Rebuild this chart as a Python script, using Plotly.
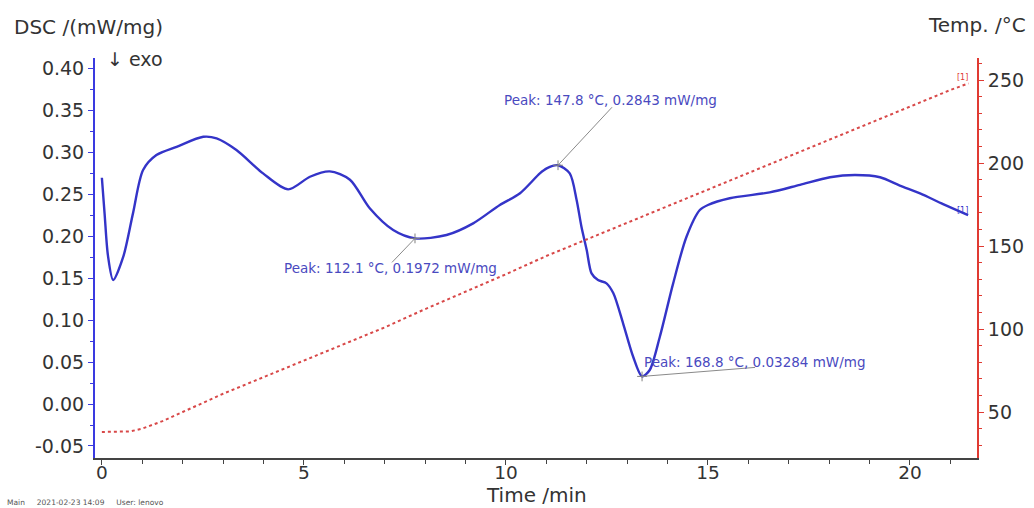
import plotly.graph_objects as go

# ---- data ----
dsc_time = [0.0, 0.07, 0.15, 0.28, 0.53, 0.77, 1.02, 1.35, 1.85, 2.51, 2.84, 3.33, 3.99, 4.61,
            5.15, 5.64, 6.14, 6.63, 7.21, 7.75, 8.53, 9.19, 9.85, 10.35, 10.84, 11.01, 11.29,
            11.58, 11.75, 11.87, 12.0, 12.12, 12.28, 12.49, 12.66, 12.90, 13.15, 13.37, 13.56,
            13.81, 14.14, 14.47, 14.80, 15.0, 15.54, 16.53, 17.28, 18.02, 18.64, 19.26, 19.75,
            20.25, 20.82, 21.44]
dsc_value = [0.2694, 0.225, 0.177, 0.1476, 0.1754, 0.2270, 0.2786, 0.2964, 0.3063, 0.3182,
             0.3163, 0.3024, 0.2746, 0.2556, 0.2706, 0.2770, 0.2670, 0.2330, 0.2071, 0.1972,
             0.2012, 0.2151, 0.2370, 0.2510, 0.2746, 0.2806, 0.2843, 0.2746, 0.2429, 0.2111,
             0.1833, 0.1556, 0.1476, 0.1437, 0.1318, 0.0961, 0.0563, 0.03284, 0.0405, 0.0801,
             0.1437, 0.1992, 0.2310, 0.2370, 0.2450, 0.2520, 0.2610, 0.2700, 0.2726, 0.2700,
             0.2600, 0.2508, 0.2381, 0.2250]

temp_time = [0.0, 0.3, 0.7, 1.0, 1.5, 2.0, 3.0, 4.0, 5.0, 6.0, 7.0, 8.0, 9.0, 10.0, 11.0, 12.0,
             13.0, 14.0, 15.0, 16.0, 17.0, 18.0, 19.0, 20.0, 21.0, 21.45]
temp_value = [38.0, 38.0, 38.3, 40.0, 44.5, 50.0, 61.0, 71.0, 81.0, 91.0, 101.0, 112.0, 122.5,
              133.0, 144.0, 154.0, 164.0, 174.0, 184.0, 194.0, 204.0, 214.0, 224.0, 234.0,
              244.0, 248.0]

peak_time = [7.75, 11.29, 13.37]
peak_dsc = [0.1972, 0.2843, 0.03284]
peak_labels = ["Peak: 112.1 °C, 0.1972 mW/mg",
               "Peak: 147.8 °C, 0.2843 mW/mg",
               "Peak: 168.8 °C, 0.03284 mW/mg"]

x_ticks = [0, 5, 10, 15, 20]
y_ticks = [-0.05, 0.0, 0.05, 0.10, 0.15, 0.20, 0.25, 0.30, 0.35, 0.40]
y_ticktext = ["-0.05", "0.00", "0.05", "0.10", "0.15", "0.20", "0.25", "0.30", "0.35", "0.40"]
y2_ticks = [50, 100, 150, 200, 250]

# ---- styles ----
FONT = "DejaVu Sans"
BLUE = "#3434c8"
BLUE_AX = "#3a3ae0"
RED = "#e03a32"
RED_LINE = "#d84848"
TXT = "#333333"
ANN = "#4a4ac0"

fig = go.Figure()
fig.add_trace(go.Scatter(x=temp_time, y=temp_value, mode="lines", yaxis="y2",
                         line=dict(color=RED_LINE, width=2, dash="dot"), showlegend=False))
fig.add_trace(go.Scatter(x=dsc_time, y=dsc_value, mode="lines",
                         line=dict(color=BLUE, width=2.4, shape="spline", smoothing=0.8),
                         showlegend=False))
fig.add_trace(go.Scatter(x=peak_time, y=peak_dsc, mode="markers",
                         marker=dict(symbol="cross-thin", size=7, line=dict(color="#808080", width=1)),
                         showlegend=False))

# peak leader lines + labels (pixel offsets relative to the peak)
leader = [(-23, -24), (54, 58), (113, 9)]
text_shift = [(-24, -30), (52, 65), (112, 14)]
for t, v, lab, (dx, dy), (sx, sy) in zip(peak_time, peak_dsc, peak_labels, leader, text_shift):
    fig.add_shape(type="line", xref="x", yref="y", xsizemode="pixel", ysizemode="pixel",
                  xanchor=t, yanchor=v, x0=0, y0=0, x1=dx, y1=dy,
                  line=dict(color="#8a8a8a", width=1))
    fig.add_annotation(x=t, y=v, xref="x", yref="y", text=lab, showarrow=False,
                       xshift=sx, yshift=sy, font=dict(family=FONT, size=13.5, color=ANN))

fig.update_layout(
    width=1034, height=508,
    margin=dict(l=95, r=57, t=58, b=50, autoexpand=False),
    paper_bgcolor="white", plot_bgcolor="white",
    font=dict(family=FONT, color=TXT),
    xaxis=dict(range=[-0.17, 21.66], showgrid=False, zeroline=False, automargin=False,
               showline=True, linecolor="#444444", linewidth=1.5,
               ticks="outside", ticklen=5, tickcolor="#444444", tickvals=x_ticks,
               ticklabelstandoff=-8,
               minor=dict(dtick=1, tick0=0, ticks="outside", ticklen=4, tickcolor="#444444"),
               tickfont=dict(family=FONT, size=18.5, color=TXT)),
    yaxis=dict(range=[-0.0643, 0.412], showgrid=False, zeroline=False, automargin=False,
               showline=True, linecolor=BLUE_AX, linewidth=2,
               ticks="outside", ticklen=5, tickcolor=BLUE_AX,
               tickvals=y_ticks, ticktext=y_ticktext,
               minor=dict(dtick=0.025, tick0=0, ticks="outside", ticklen=3, tickcolor=BLUE_AX),
               tickfont=dict(family=FONT, size=19, color=TXT)),
    yaxis2=dict(range=[22.3, 263.3], overlaying="y", side="right", anchor="x", automargin=False,
                showgrid=False, zeroline=False,
                showline=True, linecolor=RED, linewidth=2,
                ticks="outside", ticklen=5, tickcolor=RED, tickvals=y2_ticks,
                minor=dict(dtick=10, tick0=0, ticks="outside", ticklen=3, tickcolor=RED),
                tickfont=dict(family=FONT, size=19, color=TXT)),
)

# axis titles & misc labels
fig.add_annotation(xref="paper", yref="paper", x=0.5, y=-0.092, xanchor="center", yanchor="middle",
                   text="Time /min", showarrow=False, font=dict(family=FONT, size=20, color=TXT))
fig.add_annotation(xref="paper", yref="paper", x=-0.0941, y=1.0775, xanchor="left", yanchor="middle",
                   text="DSC /(mW/mg)", showarrow=False, font=dict(family=FONT, size=20, color=TXT))
fig.add_annotation(xref="paper", yref="paper", x=1.0578, y=1.0825, xanchor="right", yanchor="middle",
                   text="Temp. /°C", showarrow=False, font=dict(family=FONT, size=20, color=TXT))
fig.add_annotation(xref="paper", yref="paper", x=0.0113, y=0.9975, xanchor="left", yanchor="middle",
                   text="↓ exo", showarrow=False, font=dict(family=FONT, size=19, color=TXT))
fig.add_annotation(xref="x", yref="y2", x=temp_time[-1], y=temp_value[-1], xanchor="center",
                   yanchor="middle", xshift=-6, yshift=6, text="[1]", showarrow=False,
                   font=dict(family=FONT, size=8, color=RED))
fig.add_annotation(xref="x", yref="y", x=dsc_time[-1], y=dsc_value[-1], xanchor="center",
                   yanchor="middle", xshift=-6, yshift=5, text="[1]", showarrow=False,
                   font=dict(family=FONT, size=8, color=BLUE))
fig.add_annotation(xref="paper", yref="paper", x=-0.102, y=-0.11, xanchor="left", yanchor="middle",
                   text="Main     2021-02-23 14:09     User: lenovo", showarrow=False,
                   font=dict(family=FONT, size=7.5, color="#555555"))

fig.write_html("out.html", config={"displayModeBar": False},
               post_script="document.body.style.margin='0';")
